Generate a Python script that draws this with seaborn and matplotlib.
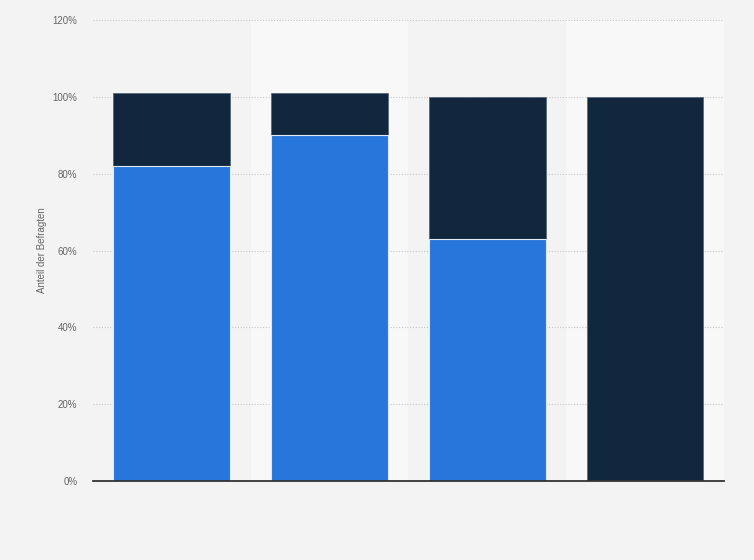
import matplotlib
matplotlib.use("Agg")
import matplotlib.pyplot as plt
import seaborn as sns
import pandas as pd
from matplotlib.ticker import FuncFormatter

# Data (percent of respondents)
categories = ["A", "B", "C", "D"]
share_blue = [82, 90, 63, 0]
share_dark = [19, 11, 37, 100]
y_ticks = [0, 20, 40, 60, 80, 100, 120]

totals = [b + d for b, d in zip(share_blue, share_dark)]
df = pd.DataFrame({"cat": categories, "blue": share_blue, "total": totals})

sns.set_style("white")
plt.rcParams["font.family"] = ["Liberation Sans", "DejaVu Sans"]

fig = plt.figure(figsize=(7.54, 5.60), dpi=100, facecolor="#f3f3f3")
ax = fig.add_axes([0.123, 0.141, 0.837, 0.823])
ax.set_facecolor("#f3f3f3")

# alternating column bands
for i in range(len(categories)):
    if i % 2 == 1:
        ax.axvspan(i - 0.5, i + 0.5, color="#f8f8f8", zorder=0, lw=0)

sns.barplot(data=df, x="cat", y="total", color="#11273d", saturation=1,
            width=0.74, edgecolor="#5a6878", linewidth=0.6, ax=ax, zorder=3)
sns.barplot(data=df, x="cat", y="blue", color="#2776db", saturation=1,
            width=0.74, edgecolor="#dfe8f5", linewidth=0.8, ax=ax, zorder=4)

ax.set_xlim(-0.5, len(categories) - 0.5)
ax.set_ylim(0, 120)
ax.set_yticks(y_ticks)
ax.yaxis.set_major_formatter(FuncFormatter(lambda v, p: f"{int(v)}%"))
ax.tick_params(axis="y", length=0, labelsize=7, labelcolor="#666666", pad=11)
ax.tick_params(axis="x", length=0, labelbottom=False)
ax.set_xlabel("")
ax.set_ylabel("Anteil der Befragten", fontsize=7, color="#666666", labelpad=4)

ax.yaxis.grid(True, linestyle=(0, (1, 1.5)), color="#c8c8c8", linewidth=0.8, zorder=1)
ax.set_axisbelow(True)
for side in ["top", "right", "left"]:
    ax.spines[side].set_visible(False)
ax.spines["bottom"].set_color("#333333")
ax.spines["bottom"].set_linewidth(1.3)
ax.spines["bottom"].set_zorder(5)

fig.savefig("out.png", dpi=100, facecolor=fig.get_facecolor())
